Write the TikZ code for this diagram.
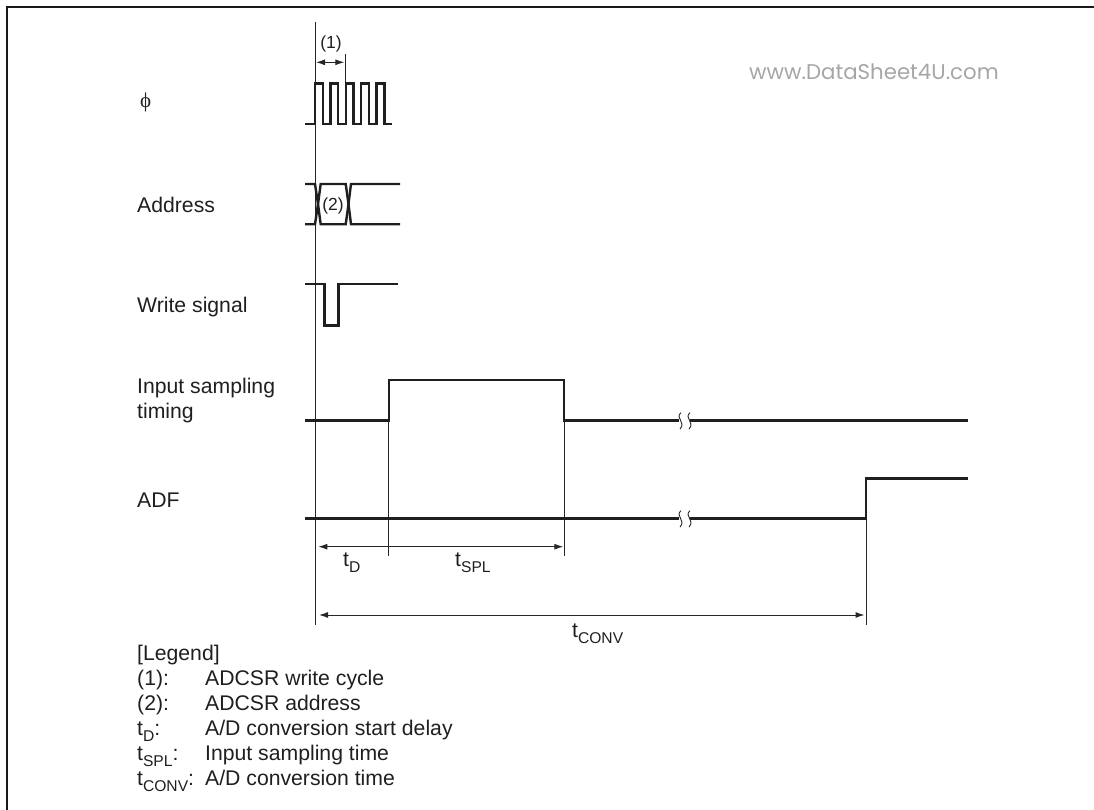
\documentclass[tikz,border=0pt]{standalone}
\usepackage{fontspec}
\setmainfont{Liberation Sans}
\newfontfamily\wmfont{Poppins}
\newfontfamily\phifont{Liberation Serif}
\usetikzlibrary{arrows.meta}
\newcommand{\sbs}[1]{\raisebox{-6.2pt}{\fontsize{15.6}{16}\selectfont #1}}
\tikzset{
 x=1pt,y=-1pt,
 sig/.style={line width=2.4pt,draw=black!88,line join=miter},
 guide/.style={line width=1pt,draw=black!85},
 dim/.style={line width=1pt,draw=black!85,{Latex[length=9pt,width=6pt]}-{Latex[length=9pt,width=6pt]}},
 lab/.style={anchor=base west,inner sep=0pt,font=\fontsize{21.2}{24}\selectfont,text=black!88},
 cen/.style={anchor=base,inner sep=0pt,font=\fontsize{17.5}{20}\selectfont,text=black!88},
 brk/.style={line width=0.9pt,draw=black!85},
}
\begin{document}
\begin{tikzpicture}
\useasboundingbox (0,0) rectangle (1094,810);
\draw[line width=2pt,black!90] (7,810) -- (7,6.7) -- (1094,6.7);
% guides
\coordinate (g0t) at (315.3,22);
\coordinate (g0b) at (315.3,625);
\draw[guide] (g0t) -- (g0b);
\coordinate (g1t) at (345,54.3); \coordinate (g1b) at (345,84);
\draw[guide] (g1t) -- (g1b);
\coordinate (g2t) at (388.8,382); \coordinate (g2b) at (388.8,555.7);
\draw[guide] (g2t) -- (g2b);
\coordinate (g3t) at (564,420); \coordinate (g3b) at (564,555.7);
\draw[guide] (g3t) -- (g3b);
\coordinate (g4t) at (866,480); \coordinate (g4b) at (866,625);
\draw[guide] (g4t) -- (g4b);
% dims
\coordinate (d1l) at (316,62.3); \coordinate (d1r) at (344.3,62.3);
\draw[dim] (d1l) -- (d1r);
\coordinate (d2l) at (318.3,546.7); \coordinate (d2r) at (563.3,546.7);
\draw[dim] (d2l) -- (d2r);
\coordinate (d3l) at (319,615); \coordinate (d3r) at (864.5,615);
\draw[dim] (d3l) -- (d3r);
% phi
\draw[sig] (305,124.3) -- (315,124.3) -- (315,83.5) -- (322.7,83.5) -- (322.7,124.3) -- (330.4,124.3) -- (330.4,83.5) -- (338,83.5) -- (338,124.3) -- (345.8,124.3) -- (345.8,83.5) -- (353.5,83.5) -- (353.5,124.3) -- (361.2,124.3) -- (361.2,83.5) -- (369,83.5) -- (369,124.3) -- (376.6,124.3) -- (376.6,83.5) -- (384.5,83.5) -- (384.5,124.3) -- (392,124.3);
% address
\draw[sig] (305,184) -- (315,184) -- (318,204) -- (315,224.3) -- (305,224.3);
\draw[sig] (318,204) -- (320.7,184) -- (345.7,184) -- (348.5,204) -- (345.7,224.3) -- (320.7,224.3) -- cycle;
\draw[sig] (400,184) -- (351,184) -- (348.5,204) -- (351,224.3) -- (400,224.3);
% write
\draw[sig] (305,284) -- (324.5,284) -- (324.5,325.4) -- (338.4,325.4) -- (338.4,284) -- (398,284);
% input sampling
\draw[sig] (305,420.6) -- (388.8,420.6) -- (388.8,380) -- (564,380) -- (564,420.6) -- (678.5,420.6);
\draw[sig] (690,420.6) -- (968,420.6);
% ADF
\draw[sig] (305,518.6) -- (678.5,518.6);
\draw[sig] (690,518.6) -- (866,518.6) -- (866,478.3) -- (968,478.3);
% breaks
\foreach \yy in {420.6,518.6}{
 \foreach \xx in {680.5,689.5}{
  \draw[brk] (\xx+0.5,\yy-8) .. controls (\xx-6,\yy-2) and (\xx+6,\yy+1) .. (\xx-0.5,\yy+8.5);
 }
}
% labels
\node[lab,font=\phifont\fontsize{21}{24}\selectfont] (phi) at (140,107.5) {ϕ};
\node[lab] (addr) at (137,213) {Address};
\node[lab] (ws) at (137,312) {Write signal};
\node[lab] (ist) at (137,393.6) {Input sampling};
\node[lab] (ist2) at (137,418.4) {timing};
\node[lab] (adf) at (137,507.7) {ADF};
\node[cen] (n1) at (331,49) {(1)};
\node[cen] (n2) at (333,210.7) {(2)};
\node[lab] (td) at (343,566) {t\sbs{D}};
\node[lab] (tspl) at (455,566) {t\sbs{SPL}};
\node[lab] (tconv) at (572,637) {t\sbs{CONV}};
\node[lab] (l0) at (137,660) {[Legend]};
\node[lab] (l1) at (137,685.3) {(1):};
\node[lab] (l1b) at (205,685.3) {ADCSR write cycle};
\node[lab] (l2) at (137,710.3) {(2):};
\node[lab] (l2b) at (205,710.3) {ADCSR address};
\node[lab] (l3) at (137,735.3) {t\sbs{D}:};
\node[lab] (l3b) at (205,735.3) {A/D conversion start delay};
\node[lab] (l4) at (137,760.5) {t\sbs{SPL}:};
\node[lab] (l4b) at (205,760.5) {Input sampling time};
\node[lab] (l5) at (137,785.5) {t\sbs{CONV}:};
\node[lab] (l5b) at (205,785.5) {A/D conversion time};
\node[anchor=base west,inner sep=0pt,text=black!35,font=\wmfont\fontsize{21.3}{23}\selectfont] (wm) at (749,79.3) {www.DataSheet4U.com};
\end{tikzpicture}
\end{document}
